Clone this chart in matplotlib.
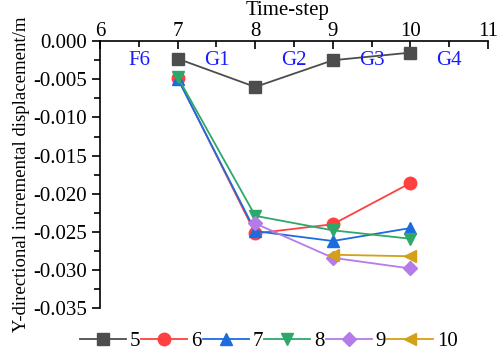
import numpy as np
import matplotlib.pyplot as plt
from matplotlib.ticker import MultipleLocator

plt.rcParams['font.family'] = ['Liberation Serif', 'DejaVu Serif']

steps = [7, 8, 9, 10]
s5 = [-0.0023, -0.0060, -0.0025, -0.0015]
s6 = [-0.0048, -0.0252, -0.0240, -0.0186]
s7 = [-0.0049, -0.0249, -0.0262, -0.0245]
s8 = [-0.0047, -0.0229, -0.0248, -0.0259]
s9_x = [8, 9, 10]
s9 = [-0.0239, -0.0284, -0.0298]
s10_x = [9, 10]
s10 = [-0.0280, -0.0282]

stage_x = [6.5, 7.5, 8.5, 9.5, 10.5]
stage_labels = ["F6", "G1", "G2", "G3", "G4"]

fig = plt.figure(figsize=(4.98, 3.55), dpi=100)
ax = fig.add_axes([0.201, 0.132, 0.779, 0.752])

ax.plot(steps, s5, color="#4d4d4d", marker="s", ms=8, lw=1.3, label="5")
ax.plot(steps, s6, color="#ff4040", marker="o", ms=9, lw=1.3, label="6")
ax.plot(steps, s7, color="#1c6be0", marker="^", ms=9, lw=1.3, label="7")
ax.plot(steps, s8, color="#2ea86a", marker="v", ms=9, lw=1.3, label="8")
ax.plot(s9_x, s9, color="#b57be8", marker="D", ms=7.5, lw=1.3, label="9")
ax.plot(s10_x, s10, color="#d4a017", marker="<", ms=9, lw=1.3, label="10")

for x, t in zip(stage_x, stage_labels):
    ax.text(x, -0.0025, t, color="#1a1aff", fontsize=15, ha="center", va="center")

ax.set_xlim(6, 11)
ax.set_ylim(-0.035, 0.0)
ax.xaxis.tick_top()
ax.xaxis.set_label_position("top")
ax.xaxis.set_major_locator(MultipleLocator(1))
ax.xaxis.set_minor_locator(MultipleLocator(0.5))
ax.yaxis.set_major_locator(MultipleLocator(0.005))
ax.yaxis.set_minor_locator(MultipleLocator(0.0025))
ax.yaxis.set_major_formatter(plt.FormatStrFormatter("%.3f"))
ax.tick_params(axis="x", which="both", direction="in", labelsize=15, pad=0)
ax.tick_params(axis="x", which="major", length=6, width=1.2)
ax.tick_params(axis="x", which="minor", length=4, width=1.2)
ax.tick_params(axis="y", which="major", direction="out", length=6, width=1.2, labelsize=15)
ax.tick_params(axis="y", which="minor", direction="out", length=4, width=1.2)
ax.spines["right"].set_visible(False)
ax.spines["bottom"].set_visible(False)
ax.spines["left"].set_linewidth(1.2)
ax.spines["top"].set_linewidth(1.2)

fig.text(0.577, 0.998, "Time-step", fontsize=15, ha="center", va="top")
ax.set_ylabel("Y-directional incremental displacement/m", fontsize=13.5, labelpad=2)

fig.legend(loc="lower center", bbox_to_anchor=(0.54, -0.025), ncol=6, frameon=False,
           fontsize=15, handlelength=2.2, handletextpad=0.2, columnspacing=0.05,
           borderaxespad=0.2)

fig.savefig("out.png", dpi=100)
